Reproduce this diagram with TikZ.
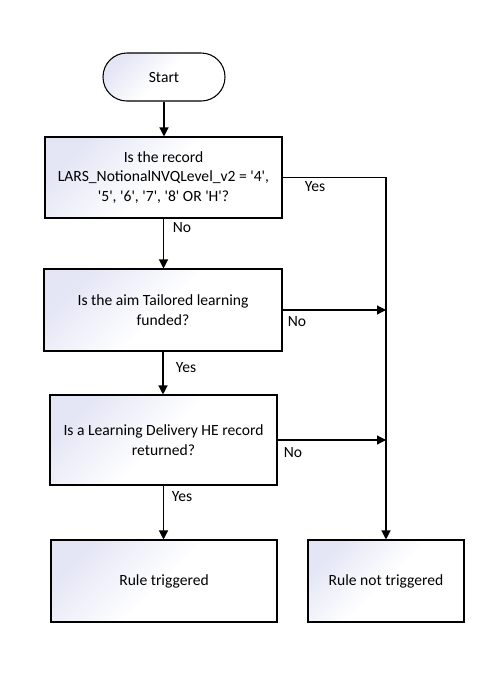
\documentclass[tikz,border=0pt]{standalone}
\usepackage{fontspec}
\setmainfont{Carlito}
\usetikzlibrary{arrows.meta}
\newcommand\qq{\textquotesingle}
\definecolor{shadetop}{RGB}{228,230,245}
\begin{document}
\begin{tikzpicture}[x=0.75pt,y=-0.75pt,
  boxshade/.style={draw=black,line width=0.8pt,top color=shadetop,bottom color=white,middle color=white,shading angle=45,
    align=center,inner sep=0pt,font=\fontsize{11.7}{14.5}\selectfont},
  conn/.style={line width=0.9pt,-{Triangle[length=6.75pt,width=6.75pt]}},
  lbl/.style={font=\fontsize{11.7}{13}\selectfont,inner sep=0pt}]
\useasboundingbox (0,0) rectangle (492,694);
\node[boxshade,rounded corners=17.9pt,minimum width=91.5pt,minimum height=36pt] (start) at (164,77) {Start};
\node[boxshade,minimum width=177.75pt,minimum height=60.75pt] (q1) at (163.5,177.5) {Is the record\\LARS\_NotionalNVQLevel\_v2 = \qq4\qq,\\\qq5\qq, \qq6\qq, \qq7\qq, \qq8\qq{} OR \qq H\qq?};
\node[boxshade,minimum width=178.5pt,minimum height=61.5pt] (q2) at (163,310) {Is the aim Tailored learning\\funded?};
\node[boxshade,minimum width=170.25pt,minimum height=67.5pt] (q3) at (163.5,440) {Is a Learning Delivery HE record\\returned?};
\node[boxshade,minimum width=169.5pt,minimum height=61.5pt] (rt) at (164,581) {Rule triggered};
\node[boxshade,minimum width=117pt,minimum height=61.5pt] (rnt) at (386,581) {Rule not triggered};
\draw[conn] (start.south) -- (start.south |- q1.north);
\draw[conn] (q1.south) -- (q1.south |- q2.north);
\draw[conn] (q2.south) -- (q2.south |- q3.north);
\draw[conn] (q3.south) -- (q3.south |- rt.north);
\coordinate (j1) at (rnt.north |- q1.east);
\draw[conn] (q1.east) -- (j1) -- (rnt.north);
\draw[conn] (q2.east) -- (q2.east -| rnt.north);
\draw[conn] (q3.east) -- (q3.east -| rnt.north);
\node[lbl] (yes1) at (315,187) {Yes};
\node[lbl] (no1) at (182,228) {No};
\node[lbl] (no2) at (297,322) {No};
\node[lbl] (yes2) at (186,368) {Yes};
\node[lbl] (no3) at (293,453) {No};
\node[lbl] (yes3) at (182,497) {Yes};
\end{tikzpicture}
\end{document}
